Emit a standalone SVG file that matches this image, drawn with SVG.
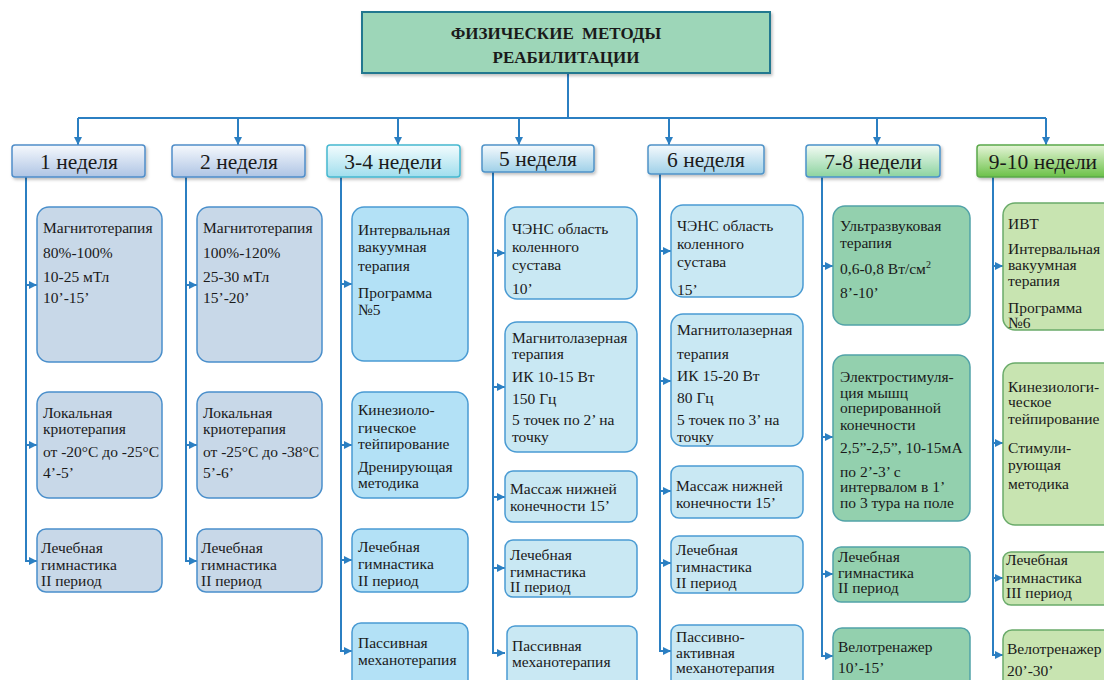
<svg xmlns="http://www.w3.org/2000/svg" width="1104" height="680" viewBox="0 0 1104 680">
<defs>
<linearGradient id="gBlue" x1="0" y1="0" x2="0" y2="1"><stop offset="0" stop-color="#f6f9fd"/><stop offset="1" stop-color="#aec4e4"/></linearGradient>
<linearGradient id="gCyan" x1="0" y1="0" x2="0" y2="1"><stop offset="0" stop-color="#f3fcfe"/><stop offset="1" stop-color="#a0deed"/></linearGradient>
<linearGradient id="gLb" x1="0" y1="0" x2="0" y2="1"><stop offset="0" stop-color="#f5fafd"/><stop offset="1" stop-color="#9fd0e8"/></linearGradient>
<linearGradient id="gGreen" x1="0" y1="0" x2="0" y2="1"><stop offset="0" stop-color="#f3fbf4"/><stop offset="1" stop-color="#8cd39f"/></linearGradient>
<linearGradient id="gLime" x1="0" y1="0" x2="0" y2="1"><stop offset="0" stop-color="#e6f5d8"/><stop offset="1" stop-color="#6bc148"/></linearGradient>
<filter id="sh" x="-10%" y="-10%" width="130%" height="140%"><feDropShadow dx="1.5" dy="2" stdDeviation="1.5" flood-color="#000" flood-opacity="0.25"/></filter>
<marker id="ah" viewBox="0 0 10 10" refX="10" refY="5" markerWidth="8" markerHeight="8" markerUnits="userSpaceOnUse" orient="auto"><path d="M0,0 L10,5 L0,10 z" fill="#2b7fc2"/></marker>
</defs>
<style>
text{font-family:"Liberation Serif","Times New Roman",serif;fill:#1a1a1a;}
.t{font-size:15.5px;}
.h{font-size:21.5px;text-anchor:middle;}
.ti{font-size:17px;font-weight:bold;text-anchor:middle;}
.ln{stroke:#2b7fc2;stroke-width:2;fill:none;}
.ar{stroke:#2b7fc2;stroke-width:2;fill:none;marker-end:url(#ah);}
.b1{fill:#c8d8e8;stroke:#4a8fcb;stroke-width:1.5;}
.b3{fill:#b3e1f6;stroke:#4a9bd3;stroke-width:1.5;}
.b5{fill:#c9e8f3;stroke:#4a9bd3;stroke-width:1.5;}
.b7{fill:#93d0ae;stroke:#52a3a8;stroke-width:1.5;}
.b9{fill:#c8e4b1;stroke:#6aab6a;stroke-width:1.5;}
</style>
<rect width="1104" height="680" fill="#ffffff"/>

<g id="connectors">
<line class="ln" x1="568" y1="73" x2="568" y2="118"/>
<line class="ln" x1="78" y1="118" x2="1046" y2="118"/>
<line class="ar" x1="78" y1="118" x2="78" y2="145"/>
<line class="ar" x1="238" y1="118" x2="238" y2="145"/>
<line class="ar" x1="398" y1="118" x2="398" y2="145"/>
<line class="ar" x1="519" y1="118" x2="519" y2="145"/>
<line class="ar" x1="669" y1="118" x2="669" y2="145"/>
<line class="ar" x1="877" y1="118" x2="877" y2="145"/>
<line class="ar" x1="1046" y1="118" x2="1046" y2="145"/>
<line class="ln" x1="26" y1="177" x2="26" y2="561"/>
<line class="ar" x1="25" y1="285" x2="37" y2="285"/>
<line class="ar" x1="25" y1="445" x2="37" y2="445"/>
<line class="ar" x1="25" y1="561" x2="37" y2="561"/>
<line class="ln" x1="186" y1="177" x2="186" y2="561"/>
<line class="ar" x1="185" y1="285" x2="197" y2="285"/>
<line class="ar" x1="185" y1="445" x2="197" y2="445"/>
<line class="ar" x1="185" y1="561" x2="197" y2="561"/>
<line class="ln" x1="341" y1="177" x2="341" y2="651"/>
<line class="ar" x1="340" y1="284" x2="352" y2="284"/>
<line class="ar" x1="340" y1="445" x2="352" y2="445"/>
<line class="ar" x1="340" y1="560" x2="352" y2="560"/>
<line class="ar" x1="340" y1="651" x2="352" y2="651"/>
<line class="ln" x1="493" y1="172" x2="493" y2="653"/>
<line class="ar" x1="492" y1="253" x2="505" y2="253"/>
<line class="ar" x1="492" y1="387" x2="505" y2="387"/>
<line class="ar" x1="492" y1="497" x2="505" y2="497"/>
<line class="ar" x1="492" y1="568" x2="505" y2="568"/>
<line class="ar" x1="492" y1="653" x2="505" y2="653"/>
<line class="ln" x1="660" y1="174" x2="660" y2="651"/>
<line class="ar" x1="659" y1="251" x2="671" y2="251"/>
<line class="ar" x1="659" y1="381" x2="671" y2="381"/>
<line class="ar" x1="659" y1="491" x2="671" y2="491"/>
<line class="ar" x1="659" y1="563" x2="671" y2="563"/>
<line class="ar" x1="659" y1="651" x2="671" y2="651"/>
<line class="ln" x1="822" y1="177" x2="822" y2="656"/>
<line class="ar" x1="821" y1="266" x2="833" y2="266"/>
<line class="ar" x1="821" y1="437" x2="833" y2="437"/>
<line class="ar" x1="821" y1="574" x2="833" y2="574"/>
<line class="ar" x1="821" y1="656" x2="833" y2="656"/>
<line class="ln" x1="993" y1="177" x2="993" y2="655"/>
<line class="ar" x1="992" y1="266" x2="1003" y2="266"/>
<line class="ar" x1="992" y1="443" x2="1003" y2="443"/>
<line class="ar" x1="992" y1="578" x2="1003" y2="578"/>
<line class="ar" x1="992" y1="655" x2="1003" y2="655"/>
</g>

<g id="title">
<rect x="362" y="12" width="408" height="61" fill="#9dd6b8" stroke="#23788f" stroke-width="2" filter="url(#sh)"/>
<text class="ti" x="556" y="39" word-spacing="4">ФИЗИЧЕСКИЕ МЕТОДЫ</text>
<text class="ti" x="566" y="63">РЕАБИЛИТАЦИИ</text>
</g>

<g id="h1"><rect x="12" y="145" width="133" height="32" rx="3" fill="url(#gBlue)" stroke="#4f8dc9" stroke-width="1.5" filter="url(#sh)"/><text class="h" x="79" y="169">1 неделя</text></g>
<g id="h2"><rect x="172" y="145" width="133" height="32" rx="3" fill="url(#gBlue)" stroke="#4f8dc9" stroke-width="1.5" filter="url(#sh)"/><text class="h" x="239" y="169">2 неделя</text></g>
<g id="h3"><rect x="327" y="145" width="133" height="32" rx="3" fill="url(#gCyan)" stroke="#45b8d0" stroke-width="1.5" filter="url(#sh)"/><text class="h" x="393" y="169">3-4 недели</text></g>
<g id="h5"><rect x="482" y="145" width="112" height="27" rx="3" fill="url(#gLb)" stroke="#4f93c8" stroke-width="1.5" filter="url(#sh)"/><text class="h" x="538" y="166">5 неделя</text></g>
<g id="h6"><rect x="648" y="145" width="116" height="29" rx="3" fill="url(#gLb)" stroke="#4f93c8" stroke-width="1.5" filter="url(#sh)"/><text class="h" x="706" y="167">6 неделя</text></g>
<g id="h7"><rect x="806" y="145" width="134" height="32" rx="3" fill="url(#gGreen)" stroke="#4a92c9" stroke-width="1.5" filter="url(#sh)"/><text class="h" x="873" y="169">7-8 недели</text></g>
<g id="h9"><rect x="977" y="145" width="135" height="32" rx="3" fill="url(#gLime)" stroke="#5aa84a" stroke-width="1.5" filter="url(#sh)"/><text class="h" x="1043" y="169">9-10 недели</text></g>

<g id="c1b1"><rect class="b1" x="37" y="207" width="125" height="155" rx="12"/>
<text class="t" x="43" y="233">Магнитотерапия</text><text class="t" x="43" y="258">80%-100%</text><text class="t" x="43" y="282">10-25 мТл</text><text class="t" x="43" y="303">10’-15’</text></g>
<g id="c1b2"><rect class="b1" x="37" y="392" width="125" height="106" rx="12"/>
<text class="t" x="43" y="418">Локальная</text><text class="t" x="43" y="434">криотерапия</text><text class="t" x="43" y="457">от -20°C до -25°C</text><text class="t" x="43" y="478">4’-5’</text></g>
<g id="c1b3"><rect class="b1" x="37" y="529" width="125" height="63" rx="9"/>
<text class="t" x="41" y="553">Лечебная</text><text class="t" x="41" y="570">гимнастика</text><text class="t" x="41" y="586">II период</text></g>

<g id="c2b1"><rect class="b1" x="197" y="207" width="125" height="155" rx="12"/>
<text class="t" x="203" y="233">Магнитотерапия</text><text class="t" x="203" y="258">100%-120%</text><text class="t" x="203" y="282">25-30 мТл</text><text class="t" x="203" y="303">15’-20’</text></g>
<g id="c2b2"><rect class="b1" x="197" y="392" width="125" height="106" rx="12"/>
<text class="t" x="203" y="418">Локальная</text><text class="t" x="203" y="434">криотерапия</text><text class="t" x="203" y="457">от -25°C до -38°C</text><text class="t" x="203" y="478">5’-6’</text></g>
<g id="c2b3"><rect class="b1" x="197" y="529" width="125" height="63" rx="9"/>
<text class="t" x="201" y="553">Лечебная</text><text class="t" x="201" y="570">гимнастика</text><text class="t" x="201" y="586">II период</text></g>

<g id="c3b1"><rect class="b3" x="352" y="207" width="116" height="154" rx="12"/>
<text class="t" x="358" y="235">Интервальная</text><text class="t" x="358" y="252">вакуумная</text><text class="t" x="358" y="271">терапия</text><text class="t" x="358" y="298">Программа</text><text class="t" x="358" y="315">№5</text></g>
<g id="c3b2"><rect class="b3" x="352" y="392" width="116" height="106" rx="12"/>
<text class="t" x="358" y="415">Кинезиоло-</text><text class="t" x="358" y="433">гическое</text><text class="t" x="358" y="449">тейпирование</text><text class="t" x="358" y="472">Дренирующая</text><text class="t" x="358" y="488">методика</text></g>
<g id="c3b3"><rect class="b3" x="352" y="529" width="116" height="63" rx="9"/>
<text class="t" x="358" y="552">Лечебная</text><text class="t" x="358" y="569">гимнастика</text><text class="t" x="358" y="586">II период</text></g>
<g id="c3b4"><rect class="b3" x="352" y="623" width="116" height="70" rx="9"/>
<text class="t" x="358" y="648">Пассивная</text><text class="t" x="358" y="665">механотерапия</text></g>

<g id="c5b1"><rect class="b5" x="505" y="207" width="132" height="92" rx="12"/>
<text class="t" x="512" y="234">ЧЭНС область</text><text class="t" x="512" y="252">коленного</text><text class="t" x="512" y="270">сустава</text><text class="t" x="512" y="294">10’</text></g>
<g id="c5b2"><rect class="b5" x="505" y="322" width="132" height="130" rx="12"/>
<text class="t" x="512" y="343">Магнитолазерная</text><text class="t" x="512" y="359">терапия</text><text class="t" x="512" y="382">ИК 10-15 Вт</text><text class="t" x="512" y="404">150 Гц</text><text class="t" x="512" y="425">5 точек по  2’ на</text><text class="t" x="512" y="442">точку</text></g>
<g id="c5b3"><rect class="b5" x="505" y="471" width="132" height="51" rx="8"/>
<text class="t" x="510" y="494">Массаж нижней</text><text class="t" x="510" y="511">конечности  15’</text></g>
<g id="c5b4"><rect class="b5" x="505" y="540" width="132" height="57" rx="8"/>
<text class="t" x="510" y="560">Лечебная</text><text class="t" x="510" y="577">гимнастика</text><text class="t" x="510" y="592">II период</text></g>
<g id="c5b5"><rect class="b5" x="507" y="626" width="130" height="70" rx="8" stroke-width="2"/>
<text class="t" x="512" y="651">Пассивная</text><text class="t" x="512" y="667">механотерапия</text></g>

<g id="c6b1"><rect class="b5" x="671" y="205" width="132" height="92" rx="12"/>
<text class="t" x="677" y="231">ЧЭНС область</text><text class="t" x="677" y="249">коленного</text><text class="t" x="677" y="267">сустава</text><text class="t" x="677" y="295">15’</text></g>
<g id="c6b2"><rect class="b5" x="671" y="314" width="132" height="132" rx="12"/>
<text class="t" x="677" y="335">Магнитолазерная</text><text class="t" x="677" y="359">терапия</text><text class="t" x="677" y="381">ИК 15-20 Вт</text><text class="t" x="677" y="403">80 Гц</text><text class="t" x="677" y="425">5 точек по 3’ на</text><text class="t" x="677" y="442">точку</text></g>
<g id="c6b3"><rect class="b5" x="671" y="466" width="132" height="52" rx="8"/>
<text class="t" x="676" y="491">Массаж нижней</text><text class="t" x="676" y="508">конечности  15’</text></g>
<g id="c6b4"><rect class="b5" x="671" y="536" width="132" height="57" rx="8"/>
<text class="t" x="676" y="555">Лечебная</text><text class="t" x="676" y="572">гимнастика</text><text class="t" x="676" y="588">II период</text></g>
<g id="c6b5"><rect class="b5" x="671" y="625" width="132" height="70" rx="8"/>
<text class="t" x="676" y="642">Пассивно-</text><text class="t" x="676" y="658">активная</text><text class="t" x="676" y="673">механотерапия</text></g>

<g id="c7b1"><rect class="b7" x="833" y="206" width="137" height="119" rx="12"/>
<text class="t" x="840" y="231">Ультразвуковая</text><text class="t" x="840" y="248">терапия</text><text class="t" x="840" y="274">0,6-0,8 Вт/см<tspan font-size="10" dy="-6">2</tspan></text><text class="t" x="840" y="298">8’-10’</text></g>
<g id="c7b2"><rect class="b7" x="833" y="355" width="137" height="166" rx="12"/>
<text class="t" x="840" y="382">Электростимуля-</text><text class="t" x="840" y="398">ция  мышц</text><text class="t" x="840" y="413">оперированной</text><text class="t" x="840" y="430">конечности</text><text class="t" x="840" y="453">2,5”-2,5”, 10-15мА</text><text class="t" x="840" y="477">по  2’-3’ с</text><text class="t" x="840" y="492">интервалом в 1’</text><text class="t" x="840" y="508">по 3 тура  на поле</text></g>
<g id="c7b3"><rect class="b7" x="833" y="547" width="137" height="55" rx="8"/>
<text class="t" x="838" y="562">Лечебная</text><text class="t" x="838" y="578">гимнастика</text><text class="t" x="838" y="593">II период</text></g>
<g id="c7b4"><rect class="b7" x="833" y="628" width="137" height="70" rx="9"/>
<text class="t" x="838" y="652">Велотренажер</text><text class="t" x="838" y="673">10’-15’</text></g>

<g id="c9b1"><rect class="b9" x="1003" y="203" width="120" height="127" rx="12"/>
<text class="t" x="1008" y="229">ИВТ</text><text class="t" x="1008" y="254">Интервальная</text><text class="t" x="1008" y="270">вакуумная</text><text class="t" x="1008" y="286">терапия</text><text class="t" x="1008" y="313">Программа</text><text class="t" x="1008" y="328">№6</text></g>
<g id="c9b2"><rect class="b9" x="1003" y="363" width="120" height="162" rx="12"/>
<text class="t" x="1008" y="392">Кинезиологи-</text><text class="t" x="1008" y="407">ческое</text><text class="t" x="1008" y="424">тейпирование</text><text class="t" x="1008" y="453">Стимули-</text><text class="t" x="1008" y="470">рующая</text><text class="t" x="1008" y="489">методика</text></g>
<g id="c9b3"><rect class="b9" x="1003" y="552" width="120" height="53" rx="8"/>
<text class="t" x="1006" y="565">Лечебная</text><text class="t" x="1006" y="583">гимнастика</text><text class="t" x="1006" y="598">III период</text></g>
<g id="c9b4"><rect class="b9" x="1003" y="630" width="120" height="70" rx="9"/>
<text class="t" x="1007" y="654">Велотренажер</text><text class="t" x="1007" y="676">20’-30’</text></g>
</svg>
